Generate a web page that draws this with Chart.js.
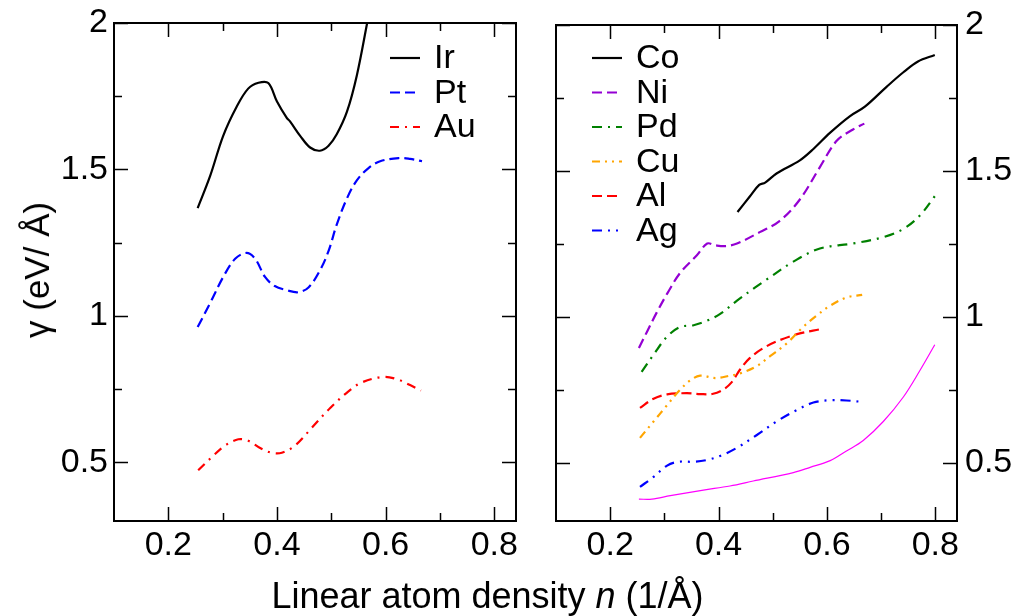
<!DOCTYPE html>
<html>
<head>
<meta charset="utf-8">
<title>Line tension vs linear atom density</title>
<script src="https://cdn.jsdelivr.net/npm/chart.js@4.4.1/dist/chart.umd.min.js"></script>
<style>
  html, body { margin: 0; padding: 0; background: #fff; }
  body { width: 1020px; height: 616px; position: relative; overflow: hidden;
         font-family: 'Liberation Sans', Arial, sans-serif; color: #000; }
  #left  { position: absolute; left: 0;     top: 0; }
  #right { position: absolute; left: 530px; top: 0; }
  #xtitle { position: absolute; left: 0; width: 975px; top: 576px; text-align: center;
            font-size: 36px; line-height: 40px; white-space: nowrap; }
  #ytitle { position: absolute; left: 37px; top: 270px; font-size: 35px; line-height: 38px;
            white-space: nowrap; transform: translate(-50%, -50%) rotate(-90deg); }
</style>
</head>
<body>
<canvas id="left" width="530" height="616"></canvas>
<canvas id="right" width="490" height="616"></canvas>
<div id="ytitle">γ (eV/ Å)</div>
<div id="xtitle">Linear atom density <i>n</i> (1/Å)</div>

<script>
// ── Axis ticks ────────────────────────────────────────────────────────────────
const X_MAJOR = [0.2, 0.4, 0.6, 0.8];
const X_MINOR = [0.3, 0.5, 0.7];
const Y_MAJOR = [0.5, 1, 1.5, 2];
const Y_MINOR = [0.75, 1.25, 1.75];

// ── Curves, [n, gamma] ────────────────────────────────────────────────────────
const IR = [[0.254,1.368],[0.277,1.478],[0.301,1.615],[0.326,1.715],[0.347,1.776],[0.366,1.796],
  [0.384,1.795],[0.400,1.732],[0.418,1.676],[0.424,1.664],[0.443,1.614],[0.461,1.575],
  [0.479,1.564],[0.495,1.581],[0.510,1.620],[0.529,1.698],[0.547,1.821],[0.566,2.000],[0.572,2.06]];
const PT = [[0.254,0.962],[0.277,1.044],[0.301,1.133],[0.323,1.195],[0.344,1.215],[0.360,1.195],
  [0.378,1.133],[0.396,1.102],[0.418,1.088],[0.439,1.081],[0.458,1.097],[0.479,1.155],
  [0.495,1.222],[0.510,1.312],[0.529,1.402],[0.547,1.463],[0.568,1.504],[0.590,1.528],
  [0.624,1.539],[0.645,1.536],[0.667,1.528]];
const AU = [[0.255,0.473],[0.280,0.518],[0.304,0.557],[0.329,0.579],[0.347,0.574],[0.369,0.549],
  [0.390,0.533],[0.409,0.533],[0.433,0.557],[0.464,0.618],[0.498,0.686],[0.531,0.742],
  [0.556,0.773],[0.596,0.792],[0.621,0.784],[0.645,0.764],[0.665,0.745]];

const CO = [[0.435,1.359],[0.458,1.413],[0.475,1.452],[0.486,1.460],[0.507,1.491],[0.550,1.536],
  [0.575,1.575],[0.606,1.631],[0.642,1.687],[0.670,1.720],[0.710,1.788],[0.741,1.838],
  [0.768,1.875],[0.799,1.897]];
const NI = [[0.253,0.893],[0.268,0.949],[0.286,1.015],[0.306,1.082],[0.329,1.150],
  [0.360,1.211],[0.379,1.251],[0.394,1.245],[0.412,1.242],[0.434,1.251],[0.476,1.290],
  [0.513,1.329],[0.550,1.402],[0.587,1.513],[0.618,1.603],[0.648,1.642],[0.669,1.662]];
const PD = [[0.258,0.811],[0.280,0.870],[0.305,0.932],[0.329,0.965],[0.354,0.971],[0.378,0.986],
  [0.403,1.010],[0.434,1.055],[0.467,1.100],[0.489,1.128],[0.538,1.189],[0.587,1.234],
  [0.648,1.251],[0.704,1.273],[0.741,1.301],[0.771,1.346],[0.799,1.413]];
const CU = [[0.255,0.585],[0.280,0.641],[0.305,0.697],[0.326,0.744],[0.347,0.781],[0.366,0.798],
  [0.394,0.790],[0.421,0.798],[0.440,0.806],[0.470,0.830],[0.495,0.865],[0.526,0.909],
  [0.556,0.965],[0.581,1.004],[0.606,1.038],[0.636,1.066],[0.665,1.075]];
const AL = [[0.255,0.688],[0.280,0.719],[0.305,0.734],[0.341,0.738],[0.366,0.735],[0.390,0.736],
  [0.409,0.751],[0.424,0.775],[0.440,0.820],[0.458,0.859],[0.483,0.893],[0.513,0.920],
  [0.550,0.943],[0.587,0.957]];
const AG = [[0.255,0.417],[0.280,0.451],[0.305,0.490],[0.326,0.503],[0.354,0.503],[0.378,0.509],
  [0.403,0.523],[0.434,0.551],[0.470,0.594],[0.507,0.641],[0.544,0.680],[0.575,0.706],
  [0.606,0.714],[0.636,0.713],[0.667,0.708]];
const EXTRA = [[0.253,0.375],[0.277,0.375],[0.311,0.387],[0.372,0.406],[0.421,0.420],[0.464,0.437],
  [0.538,0.466],[0.569,0.484],[0.606,0.507],[0.636,0.540],[0.667,0.576],[0.704,0.641],
  [0.741,0.725],[0.771,0.814],[0.799,0.904]];

// ── Helpers ───────────────────────────────────────────────────────────────────
const FONT = "'Liberation Sans', Arial, sans-serif";
const tickFont = { family: FONT, size: 34, lineHeight: 1 };

function series(label, pts, color, dash, width = 2.2) {
  return {
    label,
    data: pts.map(([x, y]) => ({ x, y })),
    borderColor: color,
    borderWidth: width,
    borderDash: dash,
    pointRadius: 0,
    fill: false,
    tension: 0.35,
  };
}

// frame + inward tick marks on all four sides
const framePlugin = {
  id: 'frame',
  afterDatasetsDraw(chart) {
    const { ctx, chartArea: a, scales: { x, y } } = chart;
    ctx.save();
    ctx.strokeStyle = '#000';
    ctx.setLineDash([]);
    ctx.beginPath();
    const mark = (vals, len, horiz) => vals.forEach(v => {
      if (horiz) {
        const px = Math.round(x.getPixelForValue(v)) + 0.5;
        ctx.moveTo(px, a.bottom); ctx.lineTo(px, a.bottom - len);
        ctx.moveTo(px, a.top);    ctx.lineTo(px, a.top + len);
      } else {
        const py = Math.round(y.getPixelForValue(v)) + 0.5;
        ctx.moveTo(a.left, py);  ctx.lineTo(a.left + len, py);
        ctx.moveTo(a.right, py); ctx.lineTo(a.right - len, py);
      }
    });
    ctx.lineWidth = 1.5;
    mark(X_MAJOR, 14, true);
    mark(X_MINOR, 8, true);
    mark(Y_MAJOR, 14, false);
    mark(Y_MINOR, 8, false);
    ctx.stroke();
    ctx.lineWidth = 2;
    ctx.strokeRect(a.left, a.top, a.right - a.left, a.bottom - a.top);
    ctx.restore();
  },
};

// line-sample legend inside the plot
const legendPlugin = {
  id: 'lineLegend',
  afterDatasetsDraw(chart, args, opts) {
    const { ctx } = chart;
    ctx.save();
    ctx.font = `${opts.size}px ${FONT}`;
    ctx.textBaseline = 'middle';
    let row = 0;
    chart.data.datasets.forEach(ds => {
      if (!ds.label) return;
      const yy = opts.y + row * opts.step;
      ctx.strokeStyle = ds.borderColor;
      ctx.lineWidth = ds.borderWidth;
      ctx.setLineDash(ds.borderDash || []);
      ctx.beginPath();
      ctx.moveTo(opts.x, yy);
      ctx.lineTo(opts.x + opts.len, yy);
      ctx.stroke();
      ctx.setLineDash([]);
      ctx.fillStyle = '#000';
      ctx.fillText(ds.label, opts.x + opts.len + 14, yy + 1);
      row++;
    });
    ctx.restore();
  },
};

function options(side, yWidth, padding, legendAt) {
  return {
    responsive: false,
    animation: false,
    layout: { padding },
    plugins: {
      legend: { display: false },
      tooltip: { enabled: false },
      lineLegend: { x: legendAt[0], y: legendAt[1], step: 34.5, len: 30, size: 34 },
    },
    scales: {
      x: {
        type: 'linear', min: 0.1, max: 0.84,
        afterBuildTicks: s => { s.ticks = X_MAJOR.map(v => ({ value: v })); },
        afterFit: s => { s.height = 40; },
        grid: { display: false, drawTicks: false },
        border: { display: false },
        ticks: { font: tickFont, color: '#000', padding: 8, maxRotation: 0,
                 callback: v => String(v) },
      },
      y: {
        type: 'linear', position: side, min: 0.3, max: 2.0,
        afterBuildTicks: s => { s.ticks = Y_MAJOR.map(v => ({ value: v })); },
        afterFit: s => { s.width = yWidth; },
        grid: { display: false, drawTicks: false },
        border: { display: false },
        ticks: { font: tickFont, color: '#000', padding: side === 'left' ? 6 : 8,
                 callback: v => String(v) },
      },
    },
  };
}

// ── Left panel: Ir, Pt, Au ────────────────────────────────────────────────────
new Chart(document.getElementById('left'), {
  type: 'line',
  data: {
    datasets: [
      series('Ir', IR, '#000000', []),
      series('Pt', PT, '#0000ff', [10, 5]),
      series('Au', AU, '#ff0000', [9, 6, 2, 6]),
    ],
  },
  options: options('left', 114, { left: 0, right: 14, top: 15, bottom: 55 }, [390, 58]),
  plugins: [framePlugin, legendPlugin],
});

// ── Right panel: Co, Ni, Pd, Cu, Al, Ag ───────────────────────────────────────
new Chart(document.getElementById('right'), {
  type: 'line',
  data: {
    datasets: [
      series('Co', CO, '#000000', []),
      series('Ni', NI, '#9400d3', [10, 5]),
      series('Pd', PD, '#008000', [10, 6, 2, 6]),
      series('Cu', CU, '#ffa500', [8, 5, 2, 5, 2, 5]),
      series('Al', AL, '#ff0000', [10, 5]),
      series('Ag', AG, '#0000ff', [10, 6, 2, 6, 2, 6]),
      series('', EXTRA, '#ff00ff', [], 1.2),
    ],
  },
  options: options('right', 63, { left: 26, right: 0, top: 15, bottom: 55 }, [62, 58]),
  plugins: [framePlugin, legendPlugin],
});
</script>
</body>
</html>
